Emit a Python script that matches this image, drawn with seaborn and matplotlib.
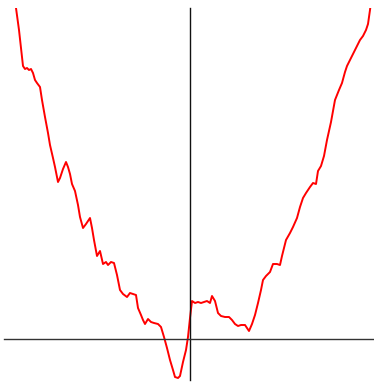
import matplotlib
matplotlib.use("Agg")
import matplotlib.pyplot as plt
import seaborn as sns
import pandas as pd

# Traced path of the walk (x, y)
x_vals = [-1.745, -1.74, -1.71, -1.69, -1.67, -1.65, -1.63, -1.61, -1.59, -1.57,
          -1.55, -1.53, -1.50, -1.48, -1.45, -1.42, -1.40, -1.37, -1.35, -1.32,
          -1.30, -1.27, -1.24, -1.22, -1.20, -1.18, -1.15, -1.12, -1.10, -1.07,
          -1.04, -1.00, -0.98, -0.96, -0.93, -0.90, -0.87, -0.84, -0.82, -0.79,
          -0.76, -0.73, -0.70, -0.67, -0.63, -0.60, -0.57, -0.54, -0.52, -0.49,
          -0.47, -0.45, -0.42, -0.39, -0.36, -0.32, -0.29, -0.26, -0.23, -0.20,
          -0.17, -0.15, -0.12, -0.10, -0.07, -0.04, -0.02, 0.00, 0.02, 0.05,
          0.08, 0.11, 0.14, 0.17, 0.20, 0.22, 0.25, 0.28, 0.31, 0.35,
          0.39, 0.42, 0.45, 0.48, 0.51, 0.55, 0.59, 0.62, 0.65, 0.68,
          0.71, 0.73, 0.76, 0.80, 0.83, 0.87, 0.90, 0.92, 0.96, 1.00,
          1.03, 1.07, 1.10, 1.13, 1.16, 1.20, 1.23, 1.26, 1.28, 1.31,
          1.34, 1.37, 1.41, 1.45, 1.49, 1.52, 1.55, 1.57, 1.60, 1.63,
          1.67, 1.70, 1.73, 1.76, 1.78, 1.80, 1.81]
y_vals = [3.35, 3.31, 3.09, 2.91, 2.73, 2.70, 2.71, 2.69, 2.70, 2.66,
          2.59, 2.56, 2.52, 2.39, 2.22, 2.06, 1.94, 1.81, 1.72, 1.57,
          1.61, 1.70, 1.77, 1.72, 1.65, 1.55, 1.48, 1.34, 1.22, 1.11,
          1.15, 1.21, 1.11, 0.99, 0.83, 0.88, 0.75, 0.77, 0.74, 0.77,
          0.76, 0.64, 0.49, 0.45, 0.42, 0.46, 0.45, 0.44, 0.31, 0.24,
          0.19, 0.15, 0.20, 0.17, 0.16, 0.15, 0.12, 0.02, -0.09, -0.21,
          -0.31, -0.38, -0.39, -0.37, -0.23, -0.11, 0.02, 0.21, 0.38, 0.36,
          0.37, 0.36, 0.37, 0.38, 0.36, 0.43, 0.38, 0.26, 0.23, 0.22,
          0.22, 0.19, 0.15, 0.13, 0.14, 0.14, 0.08, 0.15, 0.24, 0.36,
          0.49, 0.59, 0.63, 0.67, 0.75, 0.75, 0.74, 0.83, 0.99, 1.06,
          1.12, 1.21, 1.32, 1.41, 1.46, 1.52, 1.56, 1.55, 1.68, 1.73,
          1.83, 1.99, 2.17, 2.39, 2.49, 2.56, 2.67, 2.73, 2.79, 2.85,
          2.93, 2.99, 3.03, 3.09, 3.15, 3.29, 3.37]

df = pd.DataFrame({"x": x_vals, "y": y_vals})

sns.set_style("white")
fig = plt.figure(figsize=(3.74, 3.83), dpi=100)
ax = fig.add_axes([4 / 374, 3 / 383, 369 / 374, 372 / 383])

sns.lineplot(data=df, x="x", y="y", sort=False, estimator=None,
             color="#ff0000", linewidth=1.4, ax=ax)

ax.set_xlim(-1.86, 1.83)
ax.set_ylim(-0.41, 3.31)

# Axes crossing at the origin, no ticks or labels
ax.spines["left"].set_position(("data", 0))
ax.spines["bottom"].set_position(("data", 0))
ax.spines["right"].set_visible(False)
ax.spines["top"].set_visible(False)
ax.spines["left"].set_color("#111111")
ax.spines["bottom"].set_color("#333333")
for side in ("left", "bottom"):
    ax.spines[side].set_linewidth(1.0)
ax.set_xticks([])
ax.set_yticks([])
ax.set_xlabel("")
ax.set_ylabel("")

fig.savefig("out.png", dpi=100)
